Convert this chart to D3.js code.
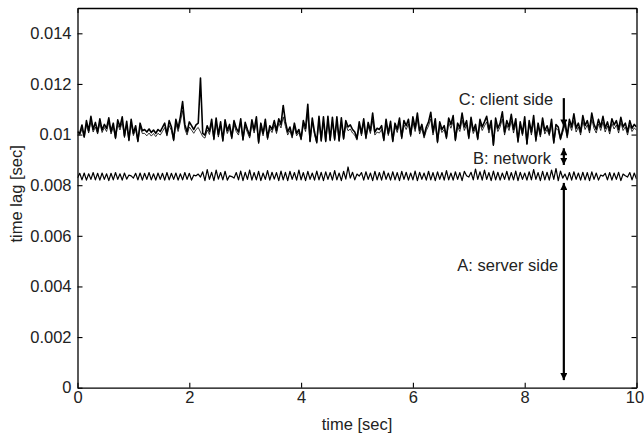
<!DOCTYPE html>
<html>
<head>
<meta charset="utf-8">
<script src="https://cdn.jsdelivr.net/npm/d3@7"></script>
<style>
  body { margin: 0; background: #fff; }
  svg text { font-family: 'Liberation Sans', Arial, Helvetica, sans-serif; fill: #222; }
</style>
</head>
<body>
<svg id="chart" width="644" height="437"></svg>
<script>
'use strict'

// sampling: one frame every 0.04 s from 0 to 10 s
const SAMPLE_STEP = 0.04

// A: server side lag [ms]
const serverLag = [
  8.28,8.47,8.21,8.48,8.20,8.45,8.23,8.50,8.21,8.47,
  8.20,8.48,8.23,8.45,8.18,8.47,8.21,8.50,8.23,8.45,
  8.20,8.48,8.24,8.40,8.37,8.28,8.47,8.21,8.48,8.20,
  8.47,8.23,8.50,8.21,8.45,8.20,8.48,8.23,8.47,8.20,
  8.50,8.21,8.47,8.23,8.48,8.20,8.45,8.21,8.50,8.23,
  8.47,8.20,8.40,8.37,8.44,8.32,8.53,8.18,8.62,8.23,
  8.51,8.18,8.60,8.24,8.50,8.21,8.55,8.20,8.37,8.34,
  8.28,8.50,8.21,8.56,8.18,8.51,8.23,8.60,8.20,8.50,
  8.21,8.55,8.18,8.48,8.23,8.58,8.20,8.51,8.24,8.50,
  8.18,8.56,8.21,8.51,8.18,8.55,8.23,8.50,8.20,8.60,
  8.21,8.50,8.18,8.55,8.23,8.48,8.20,8.56,8.21,8.51,
  8.18,8.53,8.23,8.50,8.20,8.58,8.21,8.48,8.18,8.55,
  8.24,8.72,8.28,8.51,8.21,8.44,8.36,8.50,8.20,8.53,
  8.23,8.48,8.18,8.55,8.21,8.50,8.20,8.56,8.23,8.48,
  8.20,8.53,8.21,8.50,8.18,8.55,8.23,8.51,8.20,8.48,
  8.21,8.56,8.18,8.51,8.23,8.48,8.20,8.55,8.21,8.50,
  8.18,8.53,8.23,8.50,8.20,8.58,8.21,8.48,8.20,8.53,
  8.23,8.50,8.18,8.55,8.37,8.32,8.51,8.21,8.64,8.23,
  8.53,8.20,8.60,8.23,8.50,8.18,8.56,8.21,8.51,8.20,
  8.48,8.23,8.55,8.20,8.50,8.21,8.56,8.18,8.51,8.23,
  8.48,8.20,8.53,8.21,8.62,8.23,8.50,8.18,8.55,8.21,
  8.51,8.20,8.60,8.23,8.66,8.18,8.56,8.28,8.44,8.21,
  8.50,8.20,8.53,8.23,8.48,8.20,8.51,8.21,8.50,8.18,
  8.53,8.23,8.48,8.20,8.40,8.36,8.47,8.21,8.50,8.20,
  8.48,8.23,8.51,8.18,8.44,8.37,8.32,8.50,8.21,8.48,
  8.24
]

// A + B: server side plus network [ms] (thin line)
const networkLag = [
  10.05,9.98,10.22,9.88,10.38,10.06,10.52,10.10,10.30,10.02,
  10.45,10.08,10.28,10.12,10.48,10.02,10.30,9.82,10.40,10.18,
  10.50,9.88,10.36,9.74,10.42,9.96,10.22,9.70,10.30,10.04,
  10.05,9.95,10.06,9.94,10.04,9.92,10.05,9.98,10.12,10.28,
  9.94,10.36,10.16,9.74,10.42,10.12,10.50,10.95,10.22,9.98,
  10.30,10.18,10.05,10.20,10.28,10.10,9.92,9.86,10.18,10.00,
  10.42,9.78,10.48,9.90,10.34,9.72,10.40,10.04,10.25,9.82,
  10.38,10.12,9.98,10.44,9.76,10.32,10.08,9.86,10.40,10.06,
  10.50,9.64,10.30,9.95,10.42,9.80,10.22,10.08,10.38,10.04,
  10.45,10.26,10.70,10.32,9.98,10.16,9.86,10.30,9.95,10.08,
  9.78,10.38,10.12,10.80,9.70,10.48,10.00,9.65,10.55,9.72,
  10.52,9.70,10.55,9.74,10.50,9.76,10.52,9.72,10.48,9.80,
  10.38,10.15,10.22,10.06,9.98,9.78,10.34,9.95,10.44,9.82,
  10.32,10.04,10.55,9.98,10.10,10.06,10.20,9.74,10.42,9.96,
  10.36,9.70,10.30,10.08,10.46,9.82,10.38,10.20,10.42,9.92,
  10.50,10.12,10.60,10.02,10.25,9.86,10.16,10.34,10.62,9.98,
  10.44,9.66,10.34,10.08,10.20,9.82,10.46,10.25,10.52,9.74,
  10.30,10.12,10.58,10.16,10.38,9.82,10.48,10.04,10.25,9.78,
  10.42,10.16,10.34,10.50,10.06,10.38,9.55,10.46,10.12,10.30,
  10.62,9.98,10.38,10.16,10.55,10.06,10.44,9.68,10.34,9.96,
  10.50,9.60,10.38,9.98,10.52,9.72,10.30,9.90,10.46,10.02,
  10.20,9.96,10.42,9.64,10.25,10.16,9.78,10.08,10.36,9.86,
  10.42,10.16,10.56,10.10,10.30,9.98,10.52,10.20,10.38,10.06,
  10.60,10.24,10.06,10.42,10.16,10.50,10.10,10.34,10.02,10.44,
  10.22,10.38,10.06,10.48,10.16,10.30,9.98,10.38,10.12,10.26,
  10.18
]

// A + B + C: total lag incl. client side [ms] (thick line)
const totalLag = [
  10.12,10.05,10.38,9.92,10.55,10.15,10.72,10.20,10.48,10.10,
  10.62,10.18,10.40,10.25,10.66,10.12,10.45,9.88,10.58,10.30,
  10.70,9.95,10.52,9.80,10.60,10.05,10.35,9.75,10.45,10.15,
  10.20,10.10,10.22,10.08,10.18,10.05,10.20,10.12,10.28,10.45,
  10.02,10.55,10.30,9.80,10.60,10.25,10.70,11.30,10.40,10.10,
  10.50,10.35,10.20,10.38,10.45,12.23,10.05,9.98,10.35,10.12,
  10.60,9.85,10.65,10.00,10.50,9.78,10.58,10.15,10.40,9.90,
  10.55,10.25,10.10,10.62,9.82,10.48,10.20,9.95,10.58,10.18,
  10.70,9.70,10.45,10.05,10.60,9.88,10.35,10.20,10.55,10.15,
  10.62,10.40,11.15,10.50,10.10,10.30,9.95,10.45,10.05,10.20,
  9.85,10.55,10.25,11.20,9.75,10.65,10.10,9.70,10.72,9.78,
  10.70,9.75,10.72,9.80,10.68,9.82,10.70,9.78,10.66,9.85,
  10.55,10.30,10.38,10.20,10.10,9.85,10.50,10.05,10.62,9.90,
  10.48,10.15,10.85,10.10,10.25,10.20,10.35,9.80,10.60,10.05,
  10.52,9.75,10.45,10.20,10.65,9.90,10.55,10.35,10.60,10.00,
  10.70,10.25,10.85,10.15,10.40,9.95,10.30,10.50,10.88,10.10,
  10.62,9.72,10.50,10.20,10.35,9.90,10.65,10.40,10.75,9.80,
  10.45,10.25,10.85,10.30,10.55,9.90,10.68,10.15,10.40,9.85,
  10.60,10.30,10.50,10.72,10.20,10.55,9.60,10.65,10.25,10.45,
  10.90,10.10,10.55,10.30,10.80,10.20,10.62,9.75,10.50,10.05,
  10.70,9.65,10.55,10.10,10.75,9.80,10.45,10.00,10.65,10.15,
  10.35,10.05,10.60,9.70,10.40,10.30,9.85,10.20,10.55,9.95,
  10.60,10.30,10.82,10.25,10.45,10.10,10.75,10.35,10.55,10.18,
  10.85,10.40,10.20,10.60,10.30,10.72,10.25,10.50,10.15,10.62,
  10.38,10.55,10.20,10.68,10.30,10.45,10.10,10.55,10.25,10.40,
  10.30
]

const xTicks = [0, 2, 4, 6, 8, 10]
const yTicks = [0, 0.002, 0.004, 0.006, 0.008, 0.01, 0.012, 0.014]

// annotation arrows at t = 8.7 s, values in seconds
const arrows = [
  {x: 8.7, from: 0.01144, to: 0.01032, both: false},
  {x: 8.7, from: 0.00880, to: 0.00946, both: true},
  {x: 8.7, from: 0.00809, to: 0.00030, both: true}
]
const labels = [
  {x: 8.51, y: 0.01140, text: 'C: client side'},
  {x: 8.47, y: 0.00907, text: 'B: network'},
  {x: 8.60, y: 0.00484, text: 'A: server side'}
]

const FONT_SIZE = '16.5px'
const width = 644
const height = 437
const margin = {top: 8, right: 7.5, bottom: 49.3, left: 77.5}
const innerW = width - margin.left - margin.right
const innerH = height - margin.top - margin.bottom

const svg = d3.select('#chart')
const g = svg.append('g')
  .attr('transform', `translate(${margin.left},${margin.top})`)

const x = d3.scaleLinear().domain([0, 10]).range([0, innerW])
const y = d3.scaleLinear().domain([0, 0.015]).range([innerH, 0])

// clip data to the axes box
const defs = svg.append('defs')
defs.append('clipPath')
  .attr('id', 'plotClip')
  .append('rect')
  .attr('width', innerW)
  .attr('height', innerH)

const toPoints = (values) => values.map((v, i) => ({t: i * SAMPLE_STEP, v: v / 1000}))
const line = d3.line()
  .x(d => x(d.t))
  .y(d => y(d.v))

const series = [
  {values: serverLag, width: 1.2},
  {values: networkLag, width: 0.8},
  {values: totalLag, width: 1.6}
]

g.append('g')
  .attr('clip-path', 'url(#plotClip)')
  .selectAll('path')
  .data(series)
  .enter().append('path')
  .attr('d', d => line(toPoints(d.values)))
  .attr('fill', 'none')
  .attr('stroke', '#000')
  .attr('stroke-width', d => d.width)
  .attr('stroke-linejoin', 'round')

// axes, matlab style: box with inward ticks on all four sides
const styleAxis = (sel) => {
  sel.attr('font-family', null).attr('font-size', null)
  sel.select('.domain').attr('stroke', '#000').attr('stroke-width', 1.3)
  sel.selectAll('.tick line').attr('stroke', '#000').attr('stroke-width', 1.1)
  sel.selectAll('.tick text')
    .attr('fill', '#222')
    .style('font-size', FONT_SIZE)
}

g.append('g')
  .attr('transform', `translate(0,${innerH})`)
  .call(d3.axisBottom(x).tickValues(xTicks).tickSize(-5).tickSizeOuter(0).tickPadding(4).tickFormat(d3.format('d')))
  .call(styleAxis)
  .selectAll('.tick text')
  .filter(d => d === 10)
  .attr('dx', -2)

g.append('g')
  .call(d3.axisLeft(y).tickValues(yTicks).tickSize(-5).tickSizeOuter(0).tickPadding(6).tickFormat(d => d === 0 ? '0' : String(+d.toFixed(3))))
  .call(styleAxis)

g.append('g')
  .call(d3.axisTop(x).tickValues(xTicks).tickSize(-5).tickSizeOuter(0).tickFormat(''))
  .call(styleAxis)

g.append('g')
  .attr('transform', `translate(${innerW},0)`)
  .call(d3.axisRight(y).tickValues(yTicks).tickSize(-5).tickSizeOuter(0).tickFormat(''))
  .call(styleAxis)

// axis titles
svg.append('text')
  .attr('x', margin.left + innerW / 2)
  .attr('y', 430)
  .attr('text-anchor', 'middle')
  .style('font-size', FONT_SIZE)
  .text('time [sec]')

svg.append('text')
  .attr('transform', `translate(22,${margin.top + innerH / 2 - 4}) rotate(-90)`)
  .attr('text-anchor', 'middle')
  .style('font-size', FONT_SIZE)
  .text('time lag [sec]')

// arrowheads
defs.append('marker')
  .attr('id', 'head')
  .attr('viewBox', '0 0 10 10')
  .attr('refX', 10)
  .attr('refY', 5)
  .attr('markerUnits', 'userSpaceOnUse')
  .attr('markerWidth', 9)
  .attr('markerHeight', 7)
  .attr('orient', 'auto-start-reverse')
  .append('path')
  .attr('d', 'M0,0L10,5L0,10Z')
  .attr('fill', '#000')

g.append('g')
  .selectAll('line')
  .data(arrows)
  .enter().append('line')
  .attr('x1', d => x(d.x))
  .attr('x2', d => x(d.x))
  .attr('y1', d => y(d.from))
  .attr('y2', d => y(d.to))
  .attr('stroke', '#000')
  .attr('stroke-width', 2.2)
  .attr('marker-end', 'url(#head)')
  .attr('marker-start', d => d.both ? 'url(#head)' : null)

g.append('g')
  .selectAll('text')
  .data(labels)
  .enter().append('text')
  .attr('x', d => x(d.x))
  .attr('y', d => y(d.y))
  .attr('dy', '0.35em')
  .attr('text-anchor', 'end')
  .style('font-size', FONT_SIZE)
  .text(d => d.text)
</script>
</body>
</html>
